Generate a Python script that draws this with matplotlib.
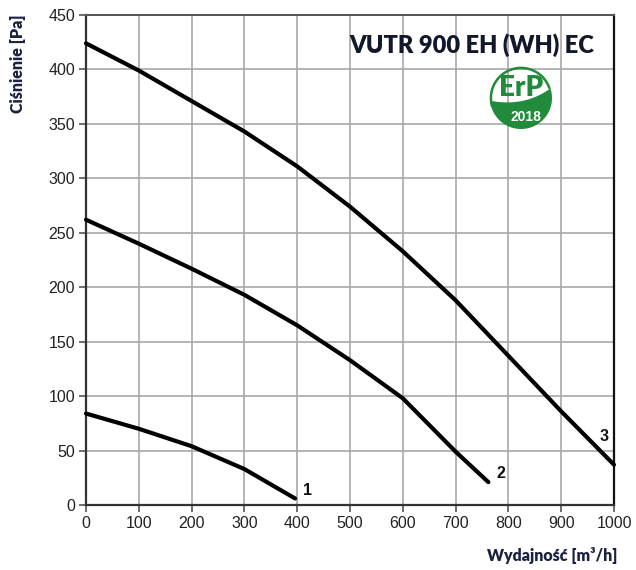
import matplotlib
matplotlib.use("Agg")
import matplotlib.pyplot as plt
import numpy as np
from matplotlib.patches import Polygon

# ---- data ----
x3 = [0, 100, 200, 300, 400, 500, 600, 700, 800, 900, 1000]
y3 = [424, 399, 371, 343, 311, 274, 233, 188, 137, 86, 37]
x2 = [0, 100, 200, 300, 400, 500, 600, 700, 762]
y2 = [262, 240, 217, 193, 165, 133, 98, 49, 21]
x1 = [0, 100, 200, 300, 396]
y1 = [84, 70, 54, 33, 6]
curve_labels = ["1", "2", "3"]
label_pos = [(419, 13), (785, 29), (982, 63)]
xticks = list(range(0, 1001, 100))
yticks = list(range(0, 451, 50))
title = "VUTR 900 EH (WH) EC"
xlabel = "Wydajność [m³/h]"
ylabel = "Ciśnienie [Pa]"

W, H = 636, 570
fig = plt.figure(figsize=(W / 100, H / 100), dpi=100)
ax = fig.add_axes([86 / W, 1 - 505 / H, (614 - 86) / W, (505 - 15) / H])

ax.set_xlim(0, 1000)
ax.set_ylim(0, 450)
ax.set_xticks(xticks)
ax.set_yticks(yticks)
ax.grid(True, color="#a8a8a8", lw=1.2, zorder=0)
ax.set_axisbelow(True)
for lbl in ax.get_xticklabels() + ax.get_yticklabels():
    lbl.set_fontfamily("Liberation Sans")
    lbl.set_fontsize(11.5)
    lbl.set_color("#222222")
ax.tick_params(axis="both", direction="out", length=5, width=1.2, color="#555555", pad=3)

for s in ["left", "bottom"]:
    ax.spines[s].set_color("#333333")
    ax.spines[s].set_linewidth(1.6)
ax.spines["top"].set_color("#555555")
ax.spines["top"].set_linewidth(1.4)
ax.spines["right"].set_color("#111111")
ax.spines["right"].set_linewidth(1.6)

for xs, ys in [(x1, y1), (x2, y2), (x3, y3)]:
    ax.plot(xs, ys, color="black", lw=3.0, solid_capstyle="round",
            solid_joinstyle="round", zorder=3, clip_on=False)

for t, (px, py) in zip(curve_labels, label_pos):
    ax.text(px, py, t, fontsize=11.5, fontweight="bold", family="Liberation Sans",
            ha="center", va="center", color="#111111", zorder=4)

fig.text(472 / W, 1 - 45 / H, title, fontsize=17, fontweight="heavy", family="Lato",
         color="#10182a", ha="center", va="center")
fig.text(18 / W, 1 - 64 / H, ylabel, fontsize=11.5, fontweight="heavy", family="Lato",
         color="#1a2240", rotation=90, ha="center", va="center")
fig.text(552 / W, 1 - 555 / H, xlabel, fontsize=11.5, fontweight="heavy", family="Lato",
         color="#1a2240", ha="center", va="center")

# ---- ErP logo ----
green = "#1f8b3b"
r_px = 31
cx, cy = 521, 98
lax = fig.add_axes([(cx - 1.1 * r_px) / W, 1 - (cy + 1.1 * r_px) / H, 2.2 * r_px / W, 2.2 * r_px / H])
lax.set_xlim(-1.1, 1.1)
lax.set_ylim(-1.1, 1.1)
lax.axis("off")
lax.patch.set_alpha(0)
th = np.radians(np.linspace(185, 378, 80))
arc = np.column_stack([np.cos(th), np.sin(th)])
p0 = arc[-1]
p2 = arc[0]
pc = np.array([0.1, -0.3])
tt = np.linspace(0, 1, 40)[:, None]
bez = (1 - tt) ** 2 * p0 + 2 * (1 - tt) * tt * pc + tt ** 2 * p2
poly = np.vstack([arc, bez])
lax.add_patch(Polygon(poly, closed=True, color=green, lw=0))
th2 = np.radians(np.linspace(20, 195, 80))
lax.plot(np.cos(th2) * 0.97, np.sin(th2) * 0.97, color=green, lw=1.8)
lax.text(0.0, 0.33, "ErP", fontsize=20, fontweight="heavy", family="Lato",
         color=green, ha="center", va="center")
lax.text(0.15, -0.6, "2018", fontsize=10, fontweight="bold", family="Liberation Sans",
         color="white", ha="center", va="center")

fig.savefig("out.png", dpi=100)
